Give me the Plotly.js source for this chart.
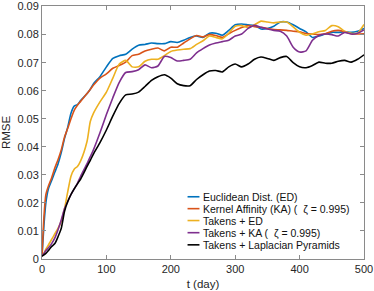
<!DOCTYPE html>
<html><head><meta charset="utf-8">
<script src="https://cdn.plot.ly/plotly-3.0.1.min.js"></script>
<style>html,body{margin:0;padding:0;background:#fff}#c{width:374px;height:291px}</style>
</head><body><div id="c"></div>
<script>
const days = [0,3,6,10,15,20,25,30,35,40,45,50,55,60,70,75,80,90,100,110,120,130,140,150,160,170,180,190,200,210,220,230,240,250,260,270,280,290,300,310,320,330,340,350,360,370,380,390,400,410,420,430,440,450,460,470,480,490,500];
const ed  = [0.001,0.012,0.020,0.025,0.028,0.031,0.034,0.038,0.043,0.047,0.052,0.0545,0.055,0.0565,0.059,0.0605,0.0625,0.065,0.0685,0.0715,0.0725,0.073,0.0748,0.0762,0.0765,0.077,0.0768,0.0768,0.0775,0.0772,0.078,0.079,0.0795,0.079,0.0805,0.0805,0.0798,0.0815,0.0835,0.0838,0.0835,0.0832,0.082,0.0822,0.083,0.0845,0.0845,0.0835,0.0822,0.081,0.079,0.0795,0.0802,0.0808,0.0808,0.081,0.0808,0.0812,0.0822];
const ka  = [0.001,0.015,0.0229,0.026,0.029,0.0325,0.0355,0.039,0.0435,0.0466,0.050,0.053,0.0548,0.0562,0.059,0.0605,0.062,0.0645,0.066,0.068,0.069,0.0702,0.0725,0.073,0.0742,0.0748,0.0752,0.0742,0.0755,0.0755,0.077,0.0785,0.0797,0.0792,0.080,0.0797,0.079,0.0803,0.0815,0.0825,0.0832,0.0828,0.0826,0.0822,0.0818,0.0817,0.0815,0.0812,0.081,0.0804,0.0802,0.080,0.0803,0.0812,0.0815,0.081,0.0803,0.0802,0.0803];
const tked = [0.001,0.002,0.0035,0.005,0.007,0.009,0.011,0.0135,0.018,0.024,0.0295,0.032,0.033,0.035,0.042,0.049,0.052,0.056,0.0595,0.0645,0.0695,0.0708,0.0685,0.0685,0.0705,0.0712,0.0712,0.0725,0.074,0.0745,0.0748,0.075,0.0765,0.0778,0.0795,0.079,0.0785,0.0805,0.083,0.0832,0.0825,0.0835,0.0848,0.0845,0.0842,0.0845,0.0845,0.0828,0.0808,0.0798,0.0802,0.081,0.0815,0.0832,0.0828,0.0812,0.0805,0.0805,0.0836];
const tkka = [0.001,0.002,0.003,0.004,0.0055,0.0075,0.0105,0.014,0.018,0.0205,0.023,0.025,0.027,0.0295,0.034,0.0365,0.039,0.045,0.0515,0.0575,0.063,0.0665,0.0668,0.0675,0.0692,0.0682,0.0688,0.0722,0.0718,0.0706,0.0708,0.0712,0.0735,0.075,0.0763,0.077,0.0775,0.078,0.0795,0.0802,0.0822,0.0833,0.0826,0.082,0.0815,0.0812,0.0795,0.0755,0.0738,0.0742,0.078,0.0797,0.0802,0.080,0.0795,0.0808,0.0802,0.0805,0.0817];
const tklp = [0.001,0.0015,0.002,0.003,0.0045,0.0055,0.008,0.011,0.017,0.0205,0.023,0.025,0.0268,0.0285,0.033,0.0352,0.0375,0.0415,0.046,0.051,0.0555,0.0585,0.0588,0.0595,0.0615,0.0637,0.065,0.0657,0.0645,0.0625,0.0618,0.0618,0.064,0.0657,0.067,0.0672,0.0667,0.0685,0.0695,0.0685,0.0695,0.0712,0.072,0.0715,0.0708,0.0718,0.0722,0.070,0.0685,0.0682,0.069,0.0702,0.0698,0.0698,0.0705,0.0708,0.0702,0.0712,0.0728];
const names = ['Euclidean Dist. (ED)','Kernel Affinity (KA) (  \u03B6 = 0.995)','Takens + ED','Takens + KA (  \u03B6 = 0.995)','Takens + Laplacian Pyramids'];
const colors = ['#0072BD','#D95319','#EDB120','#7E2F8E','#000000'];
const series = [ed, ka, tked, tkka, tklp];
const xTicks = [0,100,200,300,400,500];
const yTicks = [0,0.01,0.02,0.03,0.04,0.05,0.06,0.07,0.08,0.09];
const yTickText = ['0','0.01','0.02','0.03','0.04','0.05','0.06','0.07','0.08','0.09'];

const traces = series.map((s,i)=>({x:days,y:s,type:'scatter',mode:'lines',name:names[i],
  line:{color:colors[i],width:1.6,shape:'spline',smoothing:0.6},showlegend:false}));

// custom compact legend (MATLAB-like)
const legX0 = 0.452, legX1 = 0.489, legTx = 0.494;
const legY = [0.246,0.199,0.152,0.104,0.056];
const shapes = names.map((n,i)=>({type:'line',xref:'paper',yref:'paper',x0:legX0,x1:legX1,y0:legY[i],y1:legY[i],
  line:{color:colors[i],width:1.6}}));
const annotations = names.map((n,i)=>({xref:'paper',yref:'paper',x:legTx,y:legY[i],text:n,showarrow:false,
  xanchor:'left',yanchor:'middle',font:{family:'Liberation Sans, Arial, sans-serif',size:10.5,color:'#111'}}));

const axisCommon = {showgrid:false,zeroline:false,showline:true,linecolor:'#8a8a8a',linewidth:1,mirror:'ticks',
  ticks:'inside',ticklen:4,tickcolor:'#8a8a8a',tickfont:{family:'Liberation Sans, Arial, sans-serif',size:11,color:'#262626'}};
const layout = {
  width:374,height:291,margin:{l:42,r:10,t:6,b:32,autoexpand:false},paper_bgcolor:'#fff',plot_bgcolor:'#fff',
  xaxis:Object.assign({},axisCommon,{range:[0,500],tickvals:xTicks,
    title:{text:'t (day)',font:{family:'Liberation Sans, Arial, sans-serif',size:11.5,color:'#262626'},standoff:5}}),
  yaxis:Object.assign({},axisCommon,{range:[0,0.0902],tickmode:'array',tickvals:yTicks,ticktext:yTickText,automargin:false,
    title:{text:'RMSE',font:{family:'Liberation Sans, Arial, sans-serif',size:11.5,color:'#262626'},standoff:4}}),
  shapes:shapes,annotations:annotations,showlegend:false
};
Plotly.newPlot('c',traces,layout,{staticPlot:true,displayModeBar:false});
</script></body></html>
